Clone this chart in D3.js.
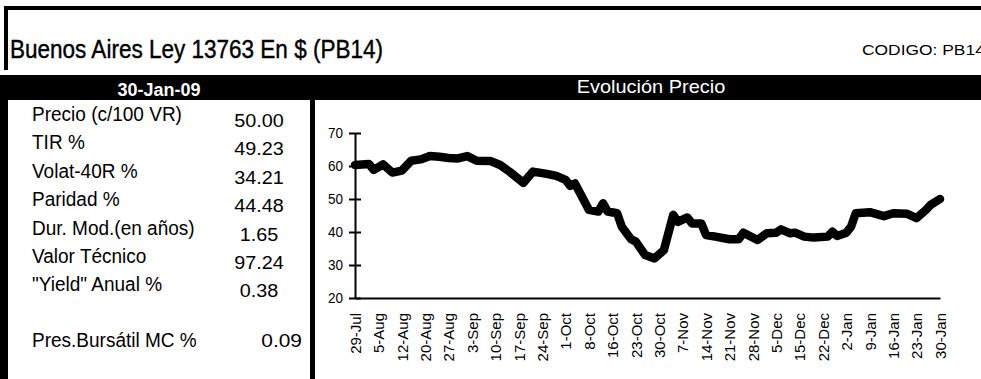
<!DOCTYPE html>
<html>
<head>
<meta charset="utf-8">
<script src="https://cdn.jsdelivr.net/npm/d3@7"></script>
<style>
  html, body { margin: 0; padding: 0; background: #fff; }
  svg { display: block; }
  text { font-family: "Liberation Sans", Arial, Helvetica, sans-serif; }
</style>
</head>
<body>
<svg id="chart" width="981" height="379"></svg>
<script>
// Bond header
const bondTitle = "Buenos Aires Ley 13763 En $ (PB14)";
const bondCode = "CODIGO: PB14";
const quoteDate = "30-Jan-09";
const chartTitle = "Evolución Precio";

// Summary table
const statLabels = ["Precio (c/100 VR)", "TIR %", "Volat-40R %", "Paridad %",
  "Dur. Mod.(en años)", "Valor Técnico", "\"Yield\" Anual %"];
const statValues = ["50.00", "49.23", "34.21", "44.48", "1.65", "97.24", "0.38"];
const bursatilLabel = "Pres.Bursátil MC %";
const bursatilValue = "0.09";

// Price history (trading-day index from 29-Jul-08, price per 100 VR)
const priceDays = [0, 3, 4, 6, 8, 10, 12, 14, 16, 18, 20, 22, 24, 26, 29, 31, 33, 36, 38, 41,
  43, 45, 46, 47, 50, 52, 53, 54, 56, 57, 59, 60, 62, 64, 66, 68, 69, 71, 72, 74,
  75, 77, 80, 82, 83, 86, 88, 90, 91, 93, 94, 96, 98, 101, 102, 103, 105, 106, 107, 110,
  113, 115, 118, 120, 122, 123, 125];
const priceValues = [60.3, 60.6, 58.8, 60.5, 58.0, 58.6, 61.6, 62.0, 63.0, 62.8, 62.4, 62.3, 63.0, 61.6, 61.5, 60.3, 58.3, 54.9, 58.3, 57.6,
  57.0, 55.8, 54.0, 54.7, 46.7, 46.2, 48.7, 46.2, 45.7, 41.6, 37.8, 37.1, 33.0, 32.0, 34.5, 45.2, 43.1, 44.4, 42.6, 42.6,
  39.1, 38.6, 37.8, 37.8, 39.8, 37.6, 39.6, 39.8, 40.8, 39.6, 39.8, 38.6, 38.3, 38.6, 40.1, 38.8, 39.8, 41.6, 45.7, 46.0,
  44.8, 45.7, 45.5, 44.2, 46.7, 48.2, 50.0];

// Category labels, one every five trading days
const tickLabels = ["29-Jul", "5-Aug", "12-Aug", "20-Aug", "27-Aug", "3-Sep", "10-Sep", "17-Sep",
  "24-Sep", "1-Oct", "8-Oct", "16-Oct", "23-Oct", "30-Oct", "7-Nov", "14-Nov", "21-Nov",
  "28-Nov", "5-Dec", "15-Dec", "22-Dec", "2-Jan", "9-Jan", "16-Jan", "23-Jan", "30-Jan"];
const yTicks = [20, 30, 40, 50, 60, 70];

const svg = d3.select("#chart");

// Rescale text horizontally by a factor
function squeeze(sel, factor = 0.82) {
  sel.each(function () {
    const len = this.getComputedTextLength();
    d3.select(this).attr("textLength", len * factor).attr("lengthAdjust", "spacingAndGlyphs");
  });
}

// Frame
svg.append("rect").attr("x", 4).attr("y", 6).attr("width", 977).attr("height", 4).attr("fill", "#000");
svg.append("rect").attr("x", 4).attr("y", 6).attr("width", 4).attr("height", 64).attr("fill", "#000");
svg.append("rect").attr("x", 0).attr("y", 75).attr("width", 981).attr("height", 25).attr("fill", "#000");
svg.append("rect").attr("x", 0).attr("y", 100).attr("width", 8).attr("height", 279).attr("fill", "#000");
svg.append("rect").attr("x", 310).attr("y", 100).attr("width", 5).attr("height", 279).attr("fill", "#000");

// Header text
svg.append("text").attr("x", 10).attr("y", 58)
  .attr("font-size", 25).attr("fill", "#000").attr("stroke", "#000").attr("stroke-width", 0.4)
  .attr("textLength", 373).attr("lengthAdjust", "spacingAndGlyphs").text(bondTitle);
svg.append("text").attr("x", 862).attr("y", 55)
  .attr("font-size", 15).attr("fill", "#000").text(bondCode).call(squeeze, 1.16);
svg.append("text").attr("x", 159).attr("y", 96)
  .attr("text-anchor", "middle").attr("font-size", 18).attr("font-weight", "bold")
  .attr("fill", "#fff").text(quoteDate).call(squeeze, 1.0);
svg.append("text").attr("x", 651).attr("y", 93)
  .attr("text-anchor", "middle").attr("font-size", 19)
  .attr("fill", "#fff").text(chartTitle).call(squeeze, 1.05);

// Summary table
const rowY = d3.scaleLinear().domain([0, 1]).range([121, 149.4]);
const rows = svg.append("g");
rows.selectAll("text.lbl").data(statLabels).join("text")
  .attr("class", "lbl").attr("x", 32).attr("y", (d, i) => rowY(i))
  .attr("font-size", 20).attr("fill", "#000").text(d => d).call(squeeze, 0.95);
rows.selectAll("text.val").data(statValues).join("text")
  .attr("class", "val").attr("x", 259).attr("y", (d, i) => rowY(i) + 6)
  .attr("text-anchor", "middle").attr("font-size", 18).attr("fill", "#000").text(d => d).call(squeeze, 1.1);
rows.append("text").attr("x", 32).attr("y", 347)
  .attr("font-size", 20).attr("fill", "#000").text(bursatilLabel).call(squeeze, 0.95);
rows.append("text").attr("x", 302).attr("y", 347)
  .attr("text-anchor", "end").attr("font-size", 19).attr("fill", "#000").text(bursatilValue).call(squeeze, 1.1);

// Price chart
const x = d3.scaleLinear().domain([0, 125]).range([355, 940]);
const y = d3.scaleLinear().domain([20, 70]).range([298, 133]);

const yAxis = svg.append("g").attr("transform", `translate(${x(0)},0)`)
  .call(d3.axisLeft(y).tickValues(yTicks).tickSizeInner(6).tickSizeOuter(0).tickPadding(6));
yAxis.select(".domain").attr("stroke", "#000").attr("stroke-width", 2);
yAxis.selectAll(".tick line").attr("x1", 6).attr("x2", -6).attr("stroke-width", 2);
yAxis.selectAll(".tick text").attr("font-size", 15).attr("fill", "#000")
  .attr("font-family", "Liberation Sans, Arial, sans-serif").call(squeeze, 0.9);

const xAxis = svg.append("g").attr("transform", `translate(0,${y(20)})`)
  .call(d3.axisBottom(x).tickValues(d3.range(0, 126, 5))
    .tickFormat((d, i) => tickLabels[i]).tickSize(0).tickPadding(0));
xAxis.select(".domain").attr("stroke", "#000").attr("stroke-width", 2);
xAxis.selectAll(".tick text")
  .attr("font-size", 15).attr("fill", "#000")
  .attr("font-family", "Liberation Sans, Arial, sans-serif")
  .attr("text-anchor", "end")
  .attr("transform", "translate(0,15) rotate(-90)")
  .attr("x", 0).attr("y", 0).attr("dy", "0.35em");

const priceData = priceDays.map((d, i) => ({ day: d, v: priceValues[i] }));
svg.append("path").datum(priceData)
  .attr("fill", "none").attr("stroke", "#000").attr("stroke-width", 8.5)
  .attr("stroke-linejoin", "round").attr("stroke-linecap", "round")
  .attr("d", d3.line().x(d => x(d.day)).y(d => y(d.v)));
</script>
</body>
</html>
